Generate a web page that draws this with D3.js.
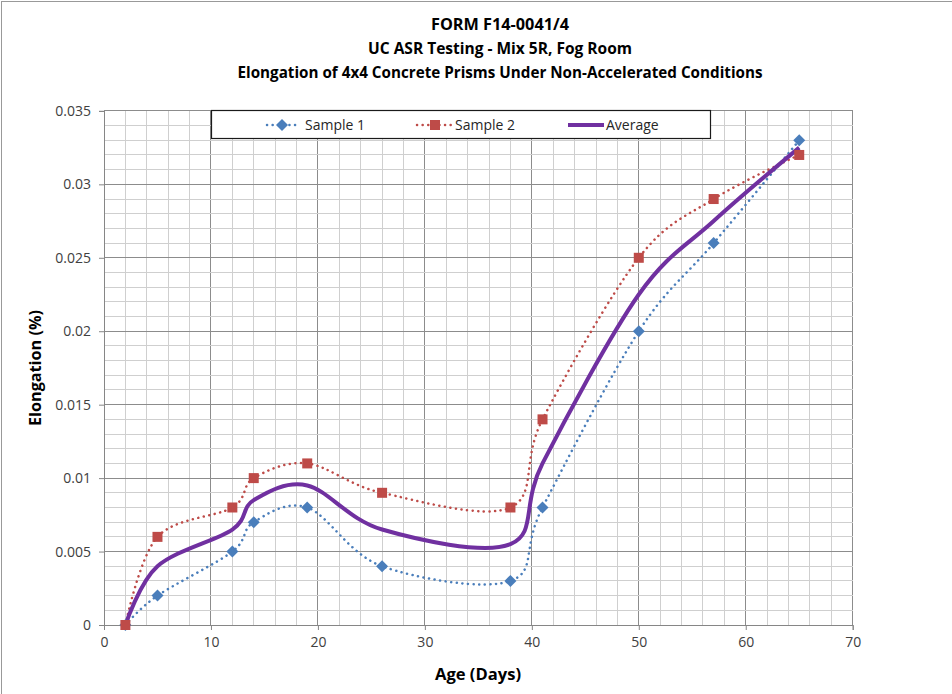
<!DOCTYPE html>
<html><head><meta charset="utf-8">
<script src="https://cdn.jsdelivr.net/npm/d3@7"></script>
<style>body{margin:0;background:#fff}svg{display:block}text{font-family:"Open Sans","Noto Sans",sans-serif}</style>
</head><body><svg id="c" width="952" height="694"></svg>
<script>
const titles = ["FORM F14-0041/4","UC ASR Testing - Mix 5R, Fog Room","Elongation of 4x4 Concrete Prisms Under Non-Accelerated Conditions"];
const ages = [2,5,12,14,19,26,38,41,50,57,65];
const sample1 = [0,0.002,0.005,0.007,0.008,0.004,0.003,0.008,0.020,0.026,0.033];
const sample2 = [0,0.006,0.008,0.010,0.011,0.009,0.008,0.014,0.025,0.029,0.032];
const average = [0,0.004,0.0065,0.0085,0.0095,0.0065,0.0055,0.011,0.0225,0.0275,0.0325];
const xTicks = [0,10,20,30,40,50,60,70];
const yTicks = [0,0.005,0.01,0.015,0.02,0.025,0.03,0.035];
const yTickLabels = ["0","0.005","0.01","0.015","0.02","0.025","0.03","0.035"];
const seriesNames = ["Sample 1","Sample 2","Average"];

const svg = d3.select("#c");
svg.append("rect").attr("x",1.5).attr("y",1.5).attr("width",960).attr("height",700).attr("fill","none").attr("stroke","#999");

const x = d3.scaleLinear().domain([0,70]).range([104,852.7]);
const y = d3.scaleLinear().domain([0,0.035]).range([625,110.9]);

// grid minor
const g = svg.append("g");
g.selectAll(".vx").data(d3.range(0,71,2)).join("line")
  .attr("x1",d=>x(d)).attr("x2",d=>x(d)).attr("y1",y(0)).attr("y2",y(0.035))
  .attr("stroke",d=>d%10===0?"#8c8c8c":"#cfcfcf").attr("stroke-width",1).attr("shape-rendering","crispEdges");
g.selectAll(".hy").data(d3.range(0,36,1)).join("line")
  .attr("x1",x(0)).attr("x2",x(70)).attr("y1",d=>y(d/1000)).attr("y2",d=>y(d/1000))
  .attr("stroke",d=>d%5===0?"#8c8c8c":"#cfcfcf").attr("stroke-width",1).attr("shape-rendering","crispEdges");

// axes
const xAxis = d3.axisBottom(x).tickValues(xTicks).tickSize(5).tickPadding(7).tickFormat(d3.format("d"));
const ya = svg.append("g").attr("transform",`translate(${x(0)},0)`)
  .call(d3.axisLeft(y).tickValues(yTicks).tickSize(5).tickPadding(8).tickFormat((d,i)=>yTickLabels[i]));
const xa = svg.append("g").attr("transform",`translate(0,${y(0)})`).call(xAxis);
[xa,ya].forEach(a=>{
  a.select(".domain").attr("stroke","#868686");
  a.selectAll(".tick line").attr("stroke","#868686");
  a.selectAll("text").attr("fill","#404040").style("font-size","14px").style("font-family","'Open Sans',sans-serif");
});

const pts = v => ages.map((a,i)=>[x(a),y(v[i])]);
const line = d3.line().curve(d3.curveCardinal.tension(0));

svg.append("path").attr("d",line(pts(sample1))).attr("fill","none").attr("stroke","#4a7ebb")
  .attr("stroke-width",2.5).attr("stroke-dasharray","0.1 5.5").attr("stroke-linecap","round");
svg.append("path").attr("d",line(pts(sample2))).attr("fill","none").attr("stroke","#be4b48")
  .attr("stroke-width",2.5).attr("stroke-dasharray","0.1 5.5").attr("stroke-linecap","round");
svg.append("path").attr("d",line(pts(average))).attr("fill","none").attr("stroke","#7030a0")
  .attr("stroke-width",4);

const diamond = (cx,cy,r)=>`M${cx},${cy-r}L${cx+r},${cy}L${cx},${cy+r}L${cx-r},${cy}Z`;
svg.selectAll(".d1").data(pts(sample1)).join("path").attr("d",d=>diamond(d[0],d[1],6)).attr("fill","#4a7ebb");
svg.selectAll(".s2").data(pts(sample2)).join("rect").attr("x",d=>d[0]-5).attr("y",d=>d[1]-5)
  .attr("width",10).attr("height",10).attr("fill","#be4b48");

// legend
const lg = svg.append("g");
lg.append("rect").attr("x",211.5).attr("y",110.5).attr("width",499).attr("height",28).attr("fill","#fff").attr("stroke","#1a1a1a").attr("stroke-width",1.2);
const items = [{x0:267,x1:297,tx:305,c:"#4a7ebb",t:"d"},{x0:417,x1:453,tx:455,c:"#be4b48",t:"s"},{x0:568,x1:604,tx:606,c:"#7030a0",t:"l"}];
items.forEach((it,i)=>{
  const cy=125;
  const l = lg.append("line").attr("x1",it.x0).attr("x2",it.x1).attr("y1",cy).attr("y2",cy).attr("stroke",it.c);
  if(it.t==="l") l.attr("stroke-width",4);
  else l.attr("stroke-width",2.5).attr("stroke-dasharray","0.1 5.5").attr("stroke-linecap","round");
  const mx=(it.x0+it.x1)/2;
  if(it.t==="d") lg.append("path").attr("d",diamond(mx,cy,6)).attr("fill",it.c);
  if(it.t==="s") lg.append("rect").attr("x",mx-5).attr("y",cy-5).attr("width",10).attr("height",10).attr("fill",it.c);
  lg.append("text").attr("x",it.tx).attr("y",cy+5).text(seriesNames[i]).attr("fill","#262626").style("font-size","14px");
});

// titles
const tY=[30,54,78];
const tW=[138,264,525];
titles.forEach((t,i)=>{
  svg.append("text").attr("x",500).attr("y",tY[i]).attr("text-anchor","middle").attr("font-weight","bold")
    .style("font-size","16px").attr("fill","#000").attr("textLength",tW[i]).attr("lengthAdjust","spacingAndGlyphs").text(t);
});
svg.append("text").attr("x",478).attr("y",680).attr("text-anchor","middle").attr("font-weight","bold").style("font-size","16px")
  .attr("textLength",86).attr("lengthAdjust","spacingAndGlyphs").text("Age (Days)");
svg.append("text").attr("transform","translate(41,368) rotate(-90)").attr("text-anchor","middle").attr("font-weight","bold")
  .style("font-size","16px").attr("textLength",116).attr("lengthAdjust","spacingAndGlyphs").text("Elongation (%)");
</script></body></html>
